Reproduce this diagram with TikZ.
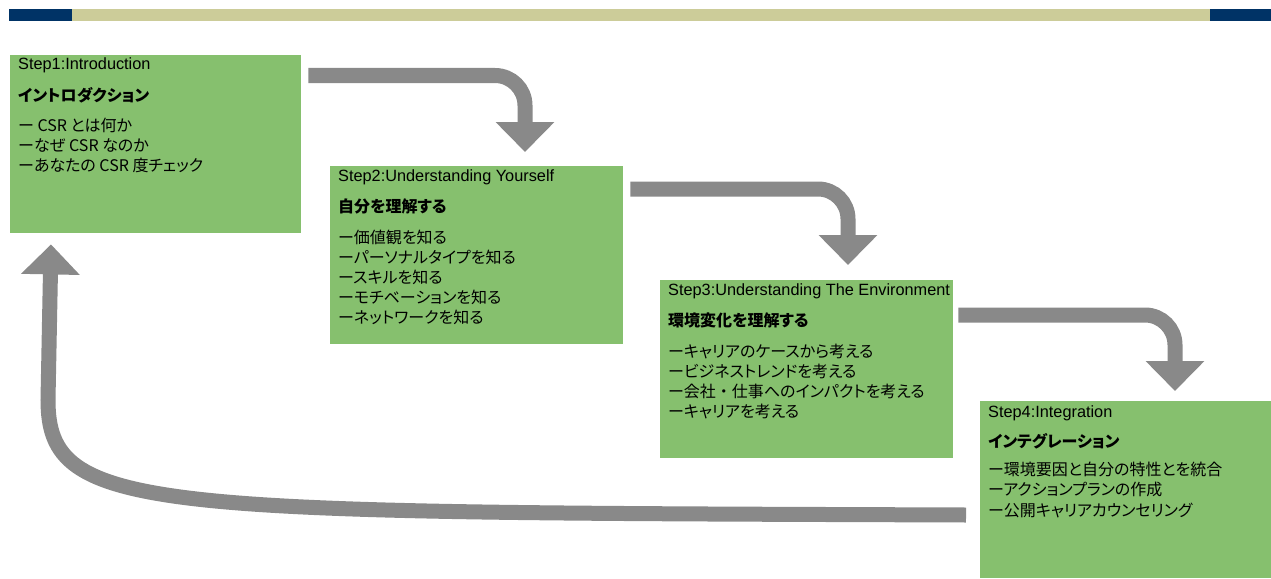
\documentclass[tikz,border=0pt]{standalone}
\usepackage{fontspec}
\setmainfont{Liberation Sans}
\newfontfamily\jp[RawFeature=+palt]{Noto Sans CJK JP}
\newfontfamily\jpf{Noto Sans CJK JP}
\usetikzlibrary{arrows.meta}
\definecolor{navy}{HTML}{003366}
\definecolor{tanbar}{HTML}{CCCC99}
\definecolor{boxgreen}{HTML}{86C06E}
\definecolor{arrowgray}{HTML}{898989}
\tikzset{
  stepbox/.style={fill=boxgreen, draw=none, inner sep=0pt, anchor=north west, minimum height=178pt},
  steptitle/.style={anchor=base west, inner sep=0pt, font=\fontsize{16.3}{18}\selectfont},
  jphead/.style={anchor=west, inner sep=0pt, font=\jp\bfseries\fontsize{16}{18}\selectfont},
  jpline/.style={anchor=west, inner sep=0pt, font=\jp\fontsize{16}{18}\selectfont},
  flow/.style={draw=arrowgray, line width=15pt, -{Triangle[length=30pt,width=57pt]}},
}
\begin{document}
\begin{tikzpicture}[x=1pt,y=-1pt]
\useasboundingbox (0,0) rectangle (1271,578);
% top bar
\fill[navy] (9,9) rectangle (72,21);
\fill[tanbar] (72,9) rectangle (1210,21);
\fill[navy] (1210,9) rectangle (1271,21);
% boxes
\node[stepbox, minimum width=291pt] (b1) at (10,55) {};
\node[stepbox, minimum width=293pt] (b2) at (330,166) {};
\node[stepbox, minimum width=293pt] (b3) at (660,280) {};
\node[stepbox, minimum width=291pt, minimum height=177pt] (b4) at (980,401) {};
% box 1 text
\node[steptitle] (s1) at ([shift={(8,15)}]b1.north west) {Step1:Introduction};
\node[jphead] (h1) at ([shift={(8,40)}]b1.north west) {イントロダクション};
\node[jpline] (l11) at ([shift={(8,70)}]b1.north west) {ー CSR とは何か};
\node[jpline] (l12) at ([shift={(8,90)}]b1.north west) {ーなぜ CSR なのか};
\node[jpline] (l13) at ([shift={(8,110)}]b1.north west) {ーあなたの CSR 度チェック};
% box 2 text
\node[steptitle] (s2) at ([shift={(8,15)}]b2.north west) {Step2:Understanding Yourself};
\node[jphead] (h2) at ([shift={(8,40)}]b2.north west) {自分を理解する};
\node[jpline] (l21) at ([shift={(8,71)}]b2.north west) {ー価値観を知る};
\node[jpline] (l22) at ([shift={(8,91)}]b2.north west) {ーパーソナルタイプを知る};
\node[jpline] (l23) at ([shift={(8,111)}]b2.north west) {ースキルを知る};
\node[jpline] (l24) at ([shift={(8,131)}]b2.north west) {ーモチベーションを知る};
\node[jpline] (l25) at ([shift={(8,151)}]b2.north west) {ーネットワークを知る};
% box 3 text
\node[steptitle] (s3) at ([shift={(8,15)}]b3.north west) {Step3:Understanding The Environment};
\node[jphead] (h3) at ([shift={(8,40)}]b3.north west) {環境変化を理解する};
\node[jpline] (l31) at ([shift={(8,71)}]b3.north west) {ーキャリアのケースから考える};
\node[jpline] (l32) at ([shift={(8,91)}]b3.north west) {ービジネストレンドを考える};
\node[jpline] (l33) at ([shift={(8,111)}]b3.north west) {ー会社{\jpf ・}仕事へのインパクトを考える};
\node[jpline] (l34) at ([shift={(8,131)}]b3.north west) {ーキャリアを考える};
% box 4 text
\node[steptitle] (s4) at ([shift={(8,16)}]b4.north west) {Step4:Integration};
\node[jphead] (h4) at ([shift={(8,40)}]b4.north west) {インテグレーション};
\node[jpline] (l41) at ([shift={(8,68)}]b4.north west) {ー環境要因と自分の特性とを統合};
\node[jpline] (l42) at ([shift={(8,88)}]b4.north west) {ーアクションプランの作成};
\node[jpline] (l43) at ([shift={(8,109)}]b4.north west) {ー公開キャリアカウンセリング};
% arrows
\draw[flow, rounded corners=30pt] ([shift={(7,20.5)}]b1.north east) -| ([shift={(195,-14)}]b2.north west);
\draw[flow, rounded corners=30pt] ([shift={(7,23)}]b2.north east) -| ([shift={(188,-15)}]b3.north west);
\draw[flow, rounded corners=30pt] ([shift={(5,35)}]b3.north east) -| ([shift={(195,-10)}]b4.north west);
\draw[flow] ([shift={(-14,114)}]b4.north west) .. controls (150,512) and (48,515) .. (48,400) -- ([shift={(41,11)}]b1.south west);
\end{tikzpicture}
\end{document}
